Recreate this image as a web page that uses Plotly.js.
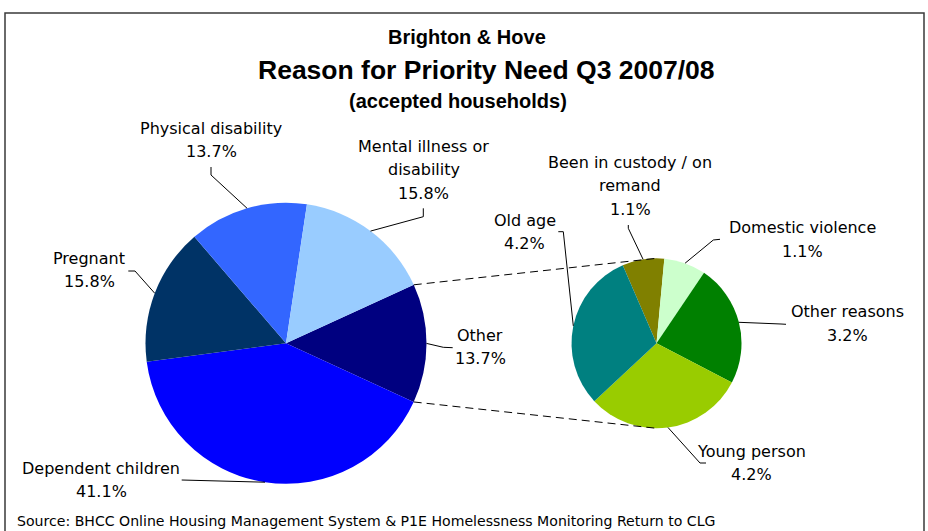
<!DOCTYPE html>
<html>
<head>
<meta charset="utf-8">
<script src="https://cdn.plot.ly/plotly-3.0.1.min.js"></script>
<style>html,body{margin:0;padding:0;background:#fff;}#chart{width:928px;height:531px;}</style>
</head>
<body>
<div id="chart"></div>
<script>
// ---- DATA ----
const mainLabels = ['Other', 'Dependent children', 'Pregnant', 'Physical disability', 'Mental illness or disability'];
const mainDisplay = ['Other', 'Dependent children', 'Pregnant', 'Physical disability', 'Mental illness or<br>disability'];
const mainValues = [13.7, 41.1, 15.8, 13.7, 15.8];
const mainColors = ['#000080', '#0000FF', '#003366', '#3366FF', '#99CCFF'];

const subLabels = ['Been in custody / on remand', 'Domestic violence', 'Other reasons', 'Young person', 'Old age'];
const subDisplay = ['Been in custody / on<br>remand', 'Domestic violence', 'Other reasons', 'Young person', 'Old age'];
const subValues = [1.1, 1.1, 3.2, 4.2, 4.2];
const subColors = ['#808000', '#CCFFCC', '#008000', '#99CC00', '#008080'];

const titleLines = ['Brighton & Hove', 'Reason for Priority Need Q3 2007/08', '(accepted households)'];
const sourceText = 'Source: BHCC Online Housing Management System & P1E Homelessness Monitoring Return to CLG';

// ---- LAYOUT GEOMETRY ----
const W = 928, H = 531;
const mainC = {x: 286, y: 343.3, r: 140.5, rot: 65.4};
const subC = {x: 656.5, y: 343.3, r: 85, rot: -23.4};
const LINE = 23.5;
const FONT = 'DejaVu Sans, Arial, sans-serif';
const TFONT = 'Liberation Sans, Arial, sans-serif';

// label placement: x center, first-line y, elbow points (label side of leader)
const mainLabelPos = [
  {x: 480, y: 335, elbow: [[452.7, 347.7], [443.3, 347.3]]},
  {x: 101, y: 468, elbow: [[181.7, 480]]},
  {x: 89, y: 258.3, elbow: [[128.3, 271], [135, 271]]},
  {x: 211, y: 128, elbow: [[211, 167], [211, 175]]},
  {x: 423.5, y: 146, elbow: [[423.3, 208.3], [423.3, 216.7]]}
];
const subLabelPos = [
  {x: 630, y: 162, elbow: [[628.3, 225], [628.3, 228.3]]},
  {x: 802, y: 227.7, elbow: [[720, 239.3], [713.3, 240]]},
  {x: 847, y: 311.7, elbow: [[786, 324.3], [781, 324]]},
  {x: 751, y: 451, elbow: [[706, 463], [700, 463]]},
  {x: 524.5, y: 220, elbow: [[558.3, 231.7], [563.3, 231.7]]}
];

function domainOf(c) {
  return {x: [(c.x - c.r) / W, (c.x + c.r) / W], y: [1 - (c.y + c.r) / H, 1 - (c.y - c.r) / H]};
}
function sliceAngles(values, rot) {
  const total = values.reduce((a, b) => a + b, 0);
  let cum = rot;
  return values.map(v => {
    const s = cum, e = cum + v / total * 360;
    cum = e;
    return {start: s, end: e, mid: (s + e) / 2};
  });
}
function pt(c, deg) {
  const a = deg * Math.PI / 180;
  return [c.x + c.r * Math.sin(a), c.y - c.r * Math.cos(a)];
}

const traces = [
  {type: 'pie', labels: mainLabels, values: mainValues, sort: false, direction: 'clockwise',
   rotation: mainC.rot, marker: {colors: mainColors, line: {width: 0}}, textinfo: 'none',
   hoverinfo: 'label+value', domain: domainOf(mainC), showlegend: false},
  {type: 'pie', labels: subLabels, values: subValues, sort: false, direction: 'clockwise',
   rotation: subC.rot, marker: {colors: subColors, line: {width: 0}}, textinfo: 'none',
   hoverinfo: 'label+value', domain: domainOf(subC), showlegend: false}
];

const shapes = [];
const annotations = [];

// frame
shapes.push({type: 'rect', xref: 'x', yref: 'y', x0: 5, x1: 924, y0: 13, y1: 545,
  line: {color: '#3a3a3a', width: 1.5}, fillcolor: 'rgba(0,0,0,0)', layer: 'below'});

// connectors from main "Other" slice to secondary pie
const mainAng = sliceAngles(mainValues, mainC.rot);
const subAng = sliceAngles(subValues, subC.rot);
const pTop = pt(mainC, mainAng[0].start), pBot = pt(mainC, mainAng[0].end);
shapes.push({type: 'line', xref: 'x', yref: 'y', x0: pTop[0], y0: pTop[1], x1: subC.x, y1: subC.y - subC.r,
  line: {color: '#000', width: 1, dash: '8px,5px'}});
shapes.push({type: 'line', xref: 'x', yref: 'y', x0: pBot[0], y0: pBot[1], x1: subC.x, y1: subC.y + subC.r,
  line: {color: '#000', width: 1, dash: '8px,5px'}});

function addLabels(c, ang, disp, values, pos) {
  disp.forEach((name, i) => {
    const lines = name.split('<br>').concat([values[i].toFixed(1) + '%']);
    lines.forEach((t, j) => {
      annotations.push({xref: 'x', yref: 'y', x: pos[i].x, y: pos[i].y + j * LINE, text: t,
        showarrow: false, xanchor: 'center', yanchor: 'middle',
        font: {family: FONT, size: 16, color: '#000'}});
    });
    const edge = pt(c, ang[i].mid);
    const pts = pos[i].elbow.concat([edge]);
    const d = 'M ' + pts.map(p => p[0].toFixed(1) + ' ' + p[1].toFixed(1)).join(' L ');
    shapes.push({type: 'path', xref: 'x', yref: 'y', path: d, line: {color: '#000', width: 1}});
  });
}
addLabels(mainC, mainAng, mainDisplay, mainValues, mainLabelPos);
addLabels(subC, subAng, subDisplay, subValues, subLabelPos);

// titles
const titleX = [467, 486, 458], titleY = [37, 70, 101], titleSize = [20, 26.5, 20];
titleLines.forEach((t, i) => {
  annotations.push({xref: 'x', yref: 'y', x: titleX[i], y: titleY[i], text: '<b>' + t + '</b>', showarrow: false,
    xanchor: 'center', yanchor: 'middle', font: {family: TFONT, size: titleSize[i], color: '#000'}});
});
annotations.push({xref: 'x', yref: 'y', x: 15, y: 521, text: sourceText, showarrow: false,
  xanchor: 'left', yanchor: 'middle', font: {family: FONT, size: 14.1, color: '#000'}});

const layout = {
  width: W, height: H, margin: {l: 0, r: 0, t: 0, b: 0}, paper_bgcolor: '#fff', plot_bgcolor: 'rgba(0,0,0,0)',
  xaxis: {range: [0, W], visible: false, fixedrange: true},
  yaxis: {range: [H, 0], visible: false, fixedrange: true},
  shapes: shapes, annotations: annotations, showlegend: false
};
Plotly.newPlot('chart', traces, layout, {staticPlot: true, displayModeBar: false});
</script>
</body>
</html>
